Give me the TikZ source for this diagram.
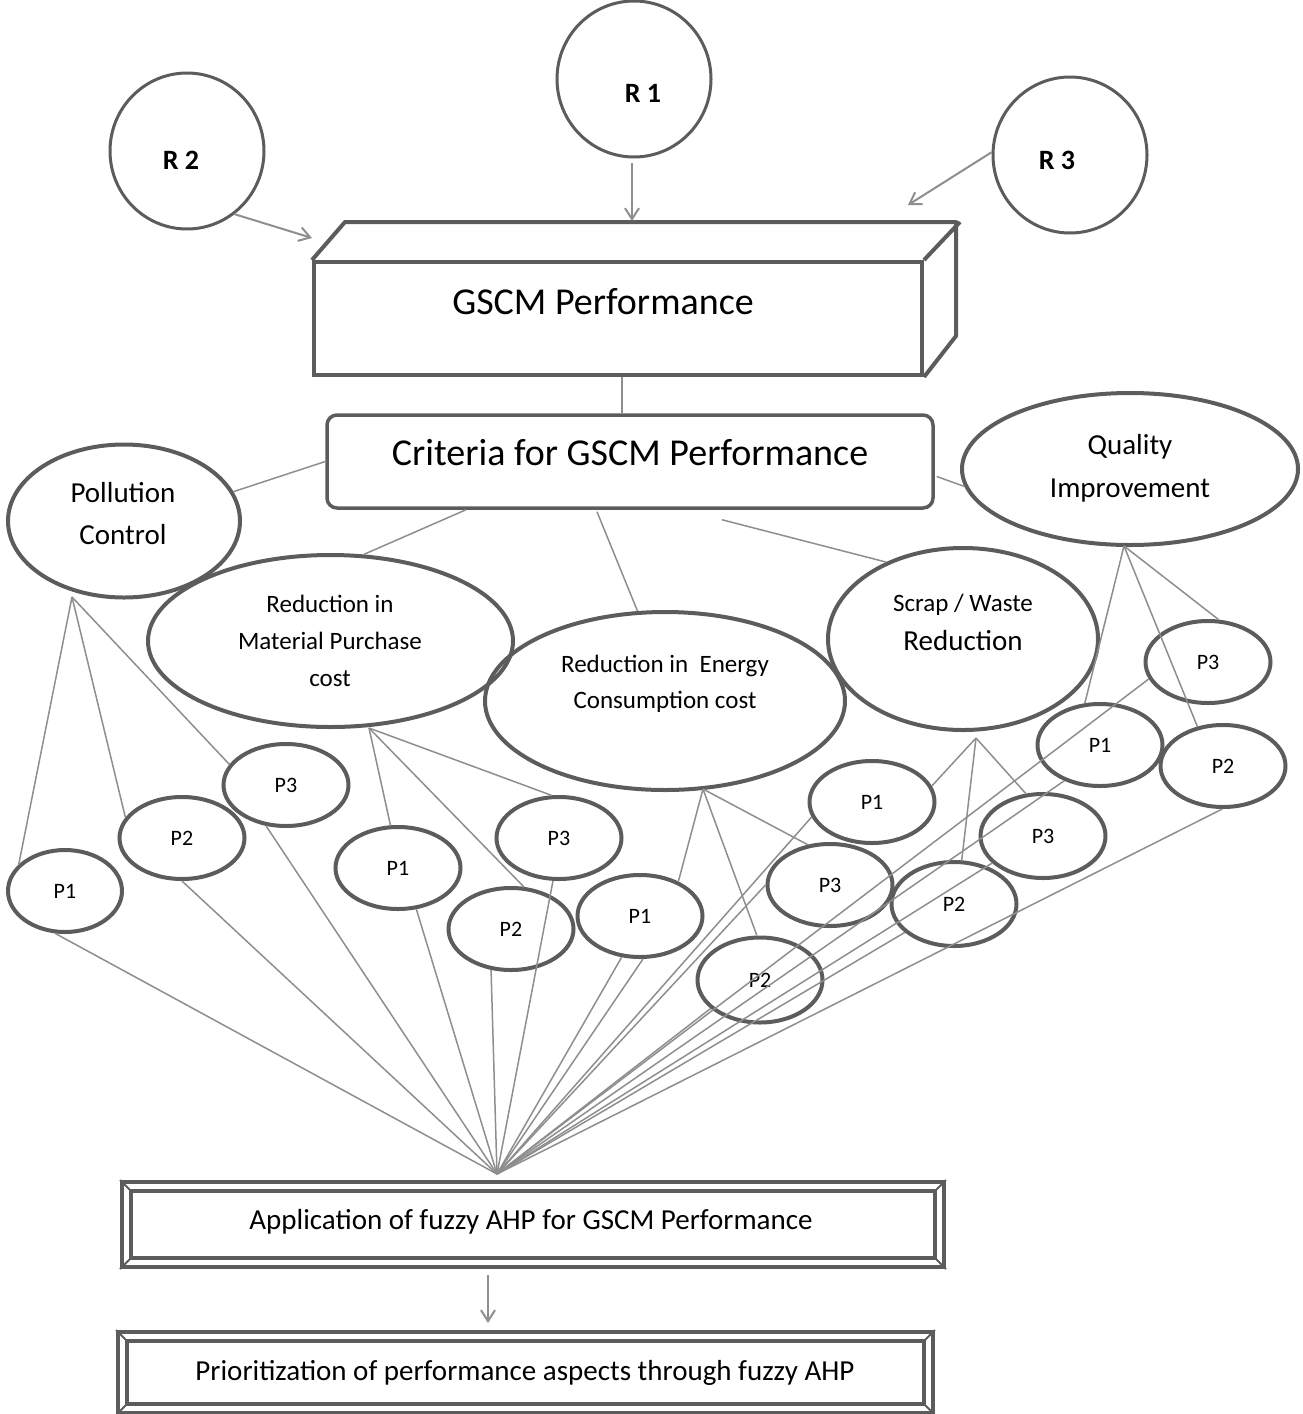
\documentclass[tikz,border=0pt]{standalone}
\usepackage{fontspec}
\setmainfont{Carlito}
\usetikzlibrary{shapes.geometric,arrows.meta,calc}
\definecolor{edgegray}{HTML}{5C5C5C}
\definecolor{conngray}{HTML}{8E8E8E}
\newcommand{\myfs}[2]{\fontsize{#1pt}{#2pt}\selectfont}
\begin{document}
\begin{tikzpicture}[x=1pt,y=-1pt,
  oval/.style={ellipse,draw=edgegray,line width=4pt,inner sep=0pt,align=center},
  pnode/.style={oval,minimum width=125pt,minimum height=82pt,font=\myfs{22}{26}},
  rnode/.style={ellipse,draw=edgegray,line width=3pt,minimum width=154pt,minimum height=156pt,inner sep=0pt},
  rlabel/.style={font=\myfs{28}{32}\bfseries},
  conn/.style={draw=conngray,line width=1.5pt},
  arr/.style={draw=conngray,line width=2pt,-{Straight Barb[length=11pt,width=14pt]}},
  frame/.style={draw=edgegray,line width=4pt},
  bevel/.style={draw=edgegray,line width=2pt},
]
\useasboundingbox (0,0) rectangle (1302,1414);

% ---------- R circles ----------
\node[rnode] (r1) at (634,79) {};
\node[rlabel] (r1t) at (643,93) {R 1};
\node[rnode] (r2) at (187,151) {};
\node[rlabel] (r2t) at (181,160) {R 2};
\node[rnode] (r3) at (1070,155) {};
\node[rlabel] (r3t) at (1057,160) {R 3};

% ---------- GSCM box ----------
\node[draw=edgegray,line width=4pt,minimum width=608pt,minimum height=113pt,inner sep=0pt] (gscm) at (618,318.5) {};
\draw[draw=edgegray,line width=4pt,line join=round] (gscm.north west) -- ++(33,-38) -- ++(611,0) -- ++(0,114) -- (gscm.south east);
\draw[draw=edgegray,line width=4pt] (gscm.north east) -- ++(36,-38);
\node[font=\myfs{38}{44}] (gscmt) at (603,302) {GSCM Performance};

\coordinate (t1) at (632,221);
\coordinate (t2) at (312,238);
\coordinate (t3) at (908,205);
\draw[arr] ($(r1.south)+(-2,4)$) -- (t1);
\draw[arr] (r2.-53) -- (t2);
\draw[arr] (r3.178) -- (t3);

% ---------- Criteria box ----------
\node[draw=edgegray,line width=3.5pt,rounded corners=10pt,minimum width=606pt,minimum height=93pt,inner sep=0pt] (crit) at (630,461.5) {};
\node[font=\myfs{38}{44}] (critt) at (630,453) {Criteria for GSCM Performance};
\draw[conn] ($(gscm.south)+(4,0)$) -- ($(crit.north)+(-8,0)$);

% ---------- criteria ellipses ----------
\node[oval,minimum width=232pt,minimum height=153pt] (pol) at (124,521) {};
\node[font=\myfs{29}{42},align=center] (polt) at (123,514) {Pollution\\Control};
\node[oval,minimum width=336pt,minimum height=152pt] (qual) at (1130,469) {};
\node[font=\myfs{29}{43},align=center] (qualt) at (1130,468) {Quality\\Improvement};
\node[oval,minimum width=365pt,minimum height=172pt] (mat) at (330.5,641) {};
\node[font=\myfs{25}{37},align=center] (matt) at (330,641) {Reduction in\\Material Purchase\\cost};
\node[oval,minimum width=360pt,minimum height=178pt] (en) at (665,701) {};
\node[font=\myfs{25}{36},align=center] (ent) at (665,684) {Reduction in\ \ Energy\\Consumption cost};
\node[oval,minimum width=270pt,minimum height=182pt] (scr) at (963,639) {};
\node[font=\myfs{25}{39},align=center] (scrt) at (963,622) {Scrap / Waste\\{\myfs{29}{39}Reduction}};

\draw[conn] (pol.15) -- (crit.west);
\draw[conn] ($(crit.east)+(2,15)$) -- (qual.186);
\draw[conn] ($(crit.south)+(-164,0)$) -- (mat.69);
\draw[conn] ($(crit.south)+(-33,2)$) -- (en.107);
\draw[conn] ($(crit.south)+(92,10)$) -- (scr.135);

% ---------- P nodes ----------
\node[pnode,minimum width=114pt] (pp1) at (65,891) {P1};
\node[pnode] (pp2) at (182,838) {P2};
\node[pnode] (pp3) at (286,785) {P3};
\node[pnode] (mp1) at (398,868) {P1};
\node[pnode] (mp2) at (511,929) {P2};
\node[pnode] (mp3) at (559,838) {P3};
\node[pnode] (ep1) at (640,916) {P1};
\node[pnode,minimum height=85pt] (ep2) at (760,980) {P2};
\node[pnode] (ep3) at (830,885) {P3};
\node[pnode] (sp1) at (872,802) {P1};
\node[pnode,minimum height=84pt] (sp2) at (954,904) {P2};
\node[pnode,minimum height=84pt] (sp3) at (1043,836) {P3};
\node[pnode] (qp1) at (1100,745) {P1};
\node[pnode] (qp2) at (1223,766) {P2};
\node[pnode] (qp3) at (1208,662) {P3};

% hubs
\coordinate (h1) at (72,597);
\coordinate (h2) at (369,728);
\coordinate (h3) at (703,789);
\coordinate (h4) at (976,738);
\coordinate (h5) at (1124,546);

\draw[conn] (h1) -- (pp1.150);
\draw[conn] (h1) -- (pp2.160);
\draw[conn] (h1) -- (pp3.160);
\draw[conn] (h2) -- (mp1.100);
\draw[conn] (h2) -- (mp2.73);
\draw[conn] (h2) -- (mp3.100);
\draw[conn] (h3) -- (ep1.42);
\draw[conn] (h3) -- (ep2.94);
\draw[conn] (h3) -- (ep3.119);
\draw[conn] (h4) -- (sp1.15);
\draw[conn] (h4) -- (sp2.80);
\draw[conn] (h4) -- (sp3.112);
\draw[conn] (h5) -- (qp1.110);
\draw[conn] (h5) -- (qp2.123);
\draw[conn] (h5) -- (qp3.76);

% fan to application box
\coordinate (cv) at (497,1174);
\draw[conn] (pp1.-103) -- (cv);
\draw[conn] (pp2.-90) -- (cv);
\draw[conn] (pp3.-116) -- (cv);
\draw[conn] (mp1.-66) -- (cv);
\draw[conn] (mp2.-116) -- (cv);
\draw[conn] (mp3.-98) -- (cv);
\draw[conn] (ep1.-114) -- (cv);
\draw[conn] (ep1.-86) -- (cv);
\draw[conn] (ep2.-150) -- (cv);
\draw[conn] (ep3.180) -- (cv);
\draw[conn] (sp1.-166) -- (cv);
\draw[conn] (sp2.-150) -- (cv);
\draw[conn] (sp3.-152) -- (cv);
\draw[conn] (qp1.-135) -- (cv);
\draw[conn] (qp2.-91) -- (cv);
\draw[conn] (qp3.-164) -- (cv);

% ---------- bottom boxes ----------
\node[frame,minimum width=822pt,minimum height=85pt,inner sep=0pt] (app) at (533,1224.5) {};
\draw[frame] ($(app.north west)+(11,11)$) rectangle ($(app.south east)+(-11,-11)$);
\draw[bevel] (app.north west) -- ++(11,11);
\draw[bevel] (app.north east) -- ++(-11,11);
\draw[bevel] (app.south west) -- ++(11,-11);
\draw[bevel] (app.south east) -- ++(-11,-11);
\node[font=\myfs{29}{34}] (appt) at (531,1222) {Application of fuzzy AHP for GSCM Performance};

\node[frame,minimum width=815pt,minimum height=81pt,inner sep=0pt] (prio) at (525.5,1372.5) {};
\draw[frame] ($(prio.north west)+(11,11)$) rectangle ($(prio.south east)+(-11,-11)$);
\draw[bevel] (prio.north west) -- ++(11,11);
\draw[bevel] (prio.north east) -- ++(-11,11);
\draw[bevel] (prio.south west) -- ++(11,-11);
\draw[bevel] (prio.south east) -- ++(-11,-11);
\node[font=\myfs{29}{34}] (priot) at (525,1373) {Prioritization of performance aspects through fuzzy AHP};

\draw[arr] ($(app.south)+(-45,6)$) -- ($(prio.north)+(-37.5,-7)$);
\end{tikzpicture}
\end{document}
